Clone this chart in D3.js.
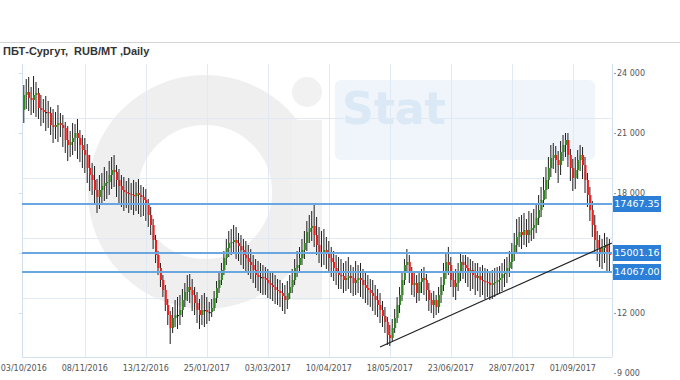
<!DOCTYPE html>
<html><head><meta charset="utf-8">
<script src="https://cdn.jsdelivr.net/npm/d3@7"></script>
<style>body{margin:0;background:#fff}svg{display:block}</style>
</head><body><svg id="c" width="680" height="380"></svg>
<script>
const title = "ПБТ-Сургут,  RUB/MT ,Daily";
const tickLabels = ["03/10/2016","08/11/2016","13/12/2016","25/01/2017","03/03/2017","10/04/2017","18/05/2017","23/06/2017","28/07/2017","01/09/2017"];
const tickIndex = [0,25,50,75,100,125,150,175,200,225];
const yTickValues = [24000,21000,18000,15000,12000,9000];
const gridValues = [21750,18750,15750,12750];
const levelValues = [17467.35,15001.16,14067.00];
const trendIndex = [146,241];
const trendValues = [10300,15500];

const open = [22150,22900,23050,22750,22650,22900,23000,22250,22150,22050,
22050,22000,21400,21300,21400,21500,21400,21250,20650,20400,
20550,20750,21000,20750,20400,20150,19900,19250,18900,18650,
18150,17800,18150,18350,18500,18550,18900,19150,19050,18650,
18350,18150,18050,18000,17950,17900,17850,18000,17900,17800,
17650,17400,16900,16400,15650,14900,14250,13650,13150,12400,
11900,11250,11750,11900,11900,12150,12650,13050,13300,13150,
12900,12500,12150,11900,12150,12150,12050,12050,12250,12750,
13250,13650,14150,14750,15250,15500,15550,15650,15500,15350,
15150,14900,14750,14550,14400,14150,13900,13800,13800,13750,
13650,13500,13400,13300,13150,13100,13000,12850,12650,13000,
13300,13650,14250,14400,14750,15150,15500,16050,16250,16350,
15900,15400,15050,15000,15150,15050,14750,14550,14250,14050,
13900,13850,13650,13750,13850,13750,13500,13650,13750,13650,
13400,13250,13150,13000,12850,12650,12400,12150,11850,11550,
10900,10750,11250,11750,12400,12900,13650,14400,14550,14050,
13400,13500,13000,13550,13750,13650,13150,12650,12400,12650,
12300,12900,13400,14050,14550,14400,13650,13300,13500,14050,
14550,14400,14250,14050,14150,13900,13750,13850,13650,13600,
13550,13500,13400,13500,13550,13650,13750,13950,14050,14250,
14550,15050,15400,15800,16050,15900,16150,15900,16150,16250,
16400,16750,17150,17650,18150,18650,19250,19750,19900,19650,
19400,20050,20400,20650,19900,19250,18750,19150,19650,19900,
19400,18650,17900,17150,16400,15650,15250,15050,15250,15400,
15050];

const close = [22900,23050,22750,22650,22900,23000,22250,22150,22050,22050,
22000,21400,21300,21400,21500,21400,21250,20650,20400,20550,
20750,21000,20750,20400,20150,19900,19250,18900,18650,18150,
17800,18150,18350,18500,18550,18900,19150,19050,18650,18350,
18150,18050,18000,17950,17900,17850,18000,17900,17800,17650,
17400,16900,16400,15650,14900,14250,13650,13150,12400,11900,
11250,11750,11900,11900,12150,12650,13050,13300,13150,12900,
12500,12150,11900,12150,12150,12050,12050,12250,12750,13250,
13650,14150,14750,15250,15500,15550,15650,15500,15350,15150,
14900,14750,14550,14400,14150,13900,13800,13800,13750,13650,
13500,13400,13300,13150,13100,13000,12850,12650,13000,13300,
13650,14250,14400,14750,15150,15500,16050,16250,16350,15900,
15400,15050,15000,15150,15050,14750,14550,14250,14050,13900,
13850,13650,13750,13850,13750,13500,13650,13750,13650,13400,
13250,13150,13000,12850,12650,12400,12150,11850,11550,10900,
10750,11250,11750,12400,12900,13650,14400,14550,14050,13400,
13500,13000,13550,13750,13650,13150,12650,12400,12650,12300,
12900,13400,14050,14550,14400,13650,13300,13500,14050,14550,
14400,14250,14050,14150,13900,13750,13850,13650,13600,13550,
13500,13400,13500,13550,13650,13750,13950,14050,14250,14550,
15050,15400,15800,16050,15900,16150,15900,16150,16250,16400,
16750,17150,17650,18150,18650,19250,19750,19900,19650,19400,
20050,20400,20650,19900,19250,18750,19150,19650,19900,19400,
18650,17900,17150,16400,15650,15250,15050,15250,15400,15050,
14900];

const high = [23400,23700,23800,23300,23850,23550,23250,22900,22700,22850,
22600,22300,22200,22050,22400,22000,21900,21550,21350,21100,
21500,21450,21700,21150,20900,20750,20450,19900,19500,19350,
18700,18900,19000,19300,19100,19600,19800,19900,19400,19200,
18900,18800,18600,18750,18500,18650,18550,18700,18400,18300,
18200,17700,17300,16700,15900,15100,14500,13900,13400,12700,
12100,12300,12650,12800,12900,13200,13500,13900,13950,13700,
13300,13050,12700,12900,13000,12800,12550,12700,13100,13600,
14000,14500,15100,15700,16100,16200,16400,16300,16000,15900,
15700,15600,15400,15200,14900,14700,14600,14500,14400,14300,
14200,14050,14000,13900,13700,13650,13500,13400,13600,13900,
14200,14700,15100,15300,15700,16100,16600,16900,17100,17450,
16800,16300,16100,16200,15800,15600,15300,15100,14900,14800,
14700,14500,14600,14800,14400,14300,14600,14400,14500,14200,
14000,13900,13700,13650,13400,13200,13000,12600,12300,11800,
11400,11700,12200,12800,13300,14000,14700,15200,14900,14300,
14100,13900,14000,14200,14300,13950,13500,13000,13100,12900,
13300,13800,14500,15000,15300,14800,14000,14200,14500,15000,
14900,14900,14800,14700,14600,14500,14500,14300,14400,14250,
14200,14100,14150,14250,14300,14350,14500,14700,14800,15100,
15500,16000,16700,16800,16900,17000,16700,17100,17000,17200,
17400,17900,18300,18800,19300,19800,20400,20500,20350,20100,
20600,20900,21000,21000,20200,19700,19800,20150,20400,20300,
19800,19000,18300,17600,16900,16100,15900,15700,16000,15800,
15700];

const low = [21500,22200,22100,21900,22000,21800,21700,21350,21500,21100,
21250,20900,20500,20700,20550,20800,20300,20000,19600,19800,
19900,20100,19700,19550,19250,19000,18500,18100,17900,17400,
17000,17200,17500,17600,17700,17900,18200,18300,17800,17500,
17300,17100,17250,17000,17150,16900,17100,16950,16800,16850,
16600,16300,15900,15200,14500,13900,13300,12800,12100,11400,
10450,11000,11300,11200,11400,11800,12300,12600,12500,12100,
11900,11500,11200,11400,11300,11450,11600,11800,12100,12500,
13000,13400,13900,14400,14800,14900,15000,14700,14600,14400,
14200,14000,13900,13700,13500,13250,13100,13000,12900,12900,
12750,12700,12600,12450,12400,12300,12100,11950,12200,12700,
13000,13400,13800,14100,14400,14700,15100,15500,15600,15300,
14900,14500,14300,14400,14200,14000,13800,13600,13400,13200,
13200,13000,13100,13200,13000,12850,12900,13000,12800,12700,
12500,12400,12300,12100,11900,11800,11500,11300,11000,10400,
10350,10600,11000,11500,12000,12600,13400,14000,13500,12900,
12800,12500,12600,13000,12900,12600,12100,12000,11750,11900,
12000,12500,13100,13700,13900,13300,12800,12650,13100,13600,
13700,13500,13300,13100,13200,12900,13100,12800,12900,12700,
12800,12650,12700,12800,12900,13000,13100,13300,13500,13800,
14200,14600,15000,15300,15200,15400,15300,15500,15600,15700,
16000,16400,16800,17300,17700,18200,18800,19200,19000,18500,
18900,19600,19800,19300,18600,18100,18200,18700,19100,18700,
18000,17300,16600,15800,15000,14600,14300,14200,14500,14000,
14100];

const svg = d3.select("#c");
const x = d3.scaleLinear().domain([0, 240]).range([23.8, 609.4]);
const y = d3.scaleLinear().domain([9000, 24000]).range([373, 73]);
const P = {l: 22, r: 612, t: 64, b: 357};
const font = "'DejaVu Sans', Verdana, sans-serif";
const crisp = v => Math.round(v) + 0.5;

// watermark (decorative)
const wm = svg.append("g");
wm.append("circle").attr("cx", 205).attr("cy", 192).attr("r", 92)
  .attr("fill", "none").attr("stroke", "#efefef").attr("stroke-width", 50);
wm.append("rect").attr("x", 292).attr("y", 120).attr("width", 30).attr("height", 180).attr("fill", "#f1f1f1");
wm.append("circle").attr("cx", 307).attr("cy", 92).attr("r", 15).attr("fill", "#f1f1f1");
wm.append("rect").attr("x", 335).attr("y", 80).attr("width", 260).attr("height", 80).attr("rx", 6).attr("fill", "#eff5fb");
wm.append("text").attr("x", 342).attr("y", 124).attr("font-family", font).attr("font-weight", "bold")
  .attr("font-size", 44).attr("fill", "#dbe8f5").text("Stat");

// top rule
svg.append("line").attr("x1", 0).attr("x2", 680).attr("y1", 42.5).attr("y2", 42.5)
  .attr("stroke", "#d4d4d4");

// title
svg.append("text").attr("x", 3).attr("y", 55).attr("font-family", "'Liberation Sans', Arial, sans-serif")
  .attr("font-weight", "bold").attr("font-size", 11).attr("fill", "#333")
  .style("white-space", "pre").text(title);

// grid
const grid = svg.append("g").attr("stroke", "#e0eaf5").attr("stroke-width", 1);
grid.selectAll("line.v").data(tickIndex.slice(1)).join("line")
  .attr("x1", d => crisp(x(d))).attr("x2", d => crisp(x(d)))
  .attr("y1", P.t).attr("y2", P.b);
grid.selectAll("line.h").data(gridValues).join("line")
  .attr("x1", P.l).attr("x2", P.r)
  .attr("y1", d => crisp(y(d))).attr("y2", d => crisp(y(d)));

// frame
const fr = svg.append("g").attr("stroke", "#d3e1ef").attr("fill", "none");
fr.append("line").attr("x1", P.l + 0.5).attr("x2", P.l + 0.5).attr("y1", P.t).attr("y2", P.b);
fr.append("line").attr("x1", P.r + 0.5).attr("x2", P.r + 0.5).attr("y1", P.t).attr("y2", P.b);
fr.append("line").attr("x1", P.l).attr("x2", P.r).attr("y1", P.b + 0.5).attr("y2", P.b + 0.5);

// left small ticks
svg.append("g").selectAll("line").data(yTickValues.filter(v => y(v) < P.b)).join("line")
  .attr("x1", P.l - 3).attr("x2", P.l).attr("y1", d => crisp(y(d))).attr("y2", d => crisp(y(d)))
  .attr("stroke", "#cfdbe8");

// candles
const idx = d3.range(close.length);
const cg = svg.append("g");
cg.selectAll("line").data(idx).join("line")
  .attr("x1", i => x(i)).attr("x2", i => x(i))
  .attr("y1", i => y(high[i])).attr("y2", i => y(low[i]))
  .attr("stroke", "#1e1e1e").attr("stroke-width", 1);
cg.selectAll("rect").data(idx).join("rect")
  .attr("x", i => x(i) - 0.5).attr("width", 2)
  .attr("y", i => y(Math.max(open[i], close[i])))
  .attr("height", i => Math.max(1.2, Math.abs(y(open[i]) - y(close[i]))))
  .attr("fill", i => close[i] > open[i] ? "#2f8a1f" : (close[i] < open[i] ? "#f21d1d" : "#1e1e1e"));

// level lines
svg.append("g").selectAll("line").data(levelValues).join("line")
  .attr("x1", P.l).attr("x2", P.r)
  .attr("y1", d => Math.round(y(d))).attr("y2", d => Math.round(y(d)))
  .attr("stroke", "#6aa6e0").attr("stroke-width", 2);

// trend line
svg.append("line")
  .attr("x1", x(trendIndex[0])).attr("y1", y(trendValues[0]))
  .attr("x2", x(trendIndex[1])).attr("y2", y(trendValues[1]))
  .attr("stroke", "#222").attr("stroke-width", 1.2);

// right axis
const fmt = v => d3.format(",")(v).replace(/,/g, " ");
const covered = v => levelValues.some(l => Math.abs(y(l) - y(v)) < 9);
const ya = svg.append("g");
ya.selectAll("line").data(yTickValues).join("line")
  .attr("x1", P.r + 2).attr("x2", P.r + 4)
  .attr("y1", d => crisp(y(d))).attr("y2", d => crisp(y(d)))
  .attr("stroke", "#999");
ya.selectAll("text").data(yTickValues.filter(v => !covered(v))).join("text")
  .attr("x", 617).attr("y", d => y(d)).attr("dy", "0.35em")
  .attr("font-family", font).attr("font-size", 8).attr("fill", "#555")
  .text(fmt);

// x axis labels
svg.append("g").selectAll("text").data(tickIndex).join("text")
  .attr("x", d => x(d)).attr("y", 371).attr("text-anchor", "middle")
  .attr("font-family", font).attr("font-size", 8).attr("fill", "#555")
  .text((d, i) => tickLabels[i]);

// level price boxes
const bx = svg.append("g").selectAll("g").data(levelValues).join("g")
  .attr("transform", d => `translate(613,${Math.round(y(d))})`);
bx.append("rect").attr("x", 0).attr("y", -8).attr("width", 48).attr("height", 16)
  .attr("fill", "#2b7fd6");
bx.append("text").attr("x", 24).attr("y", 0).attr("dy", "0.36em").attr("text-anchor", "middle")
  .attr("font-family", font).attr("font-size", 9.5).attr("fill", "#fff")
  .text(d => d.toFixed(2));
</script>
</body></html>
